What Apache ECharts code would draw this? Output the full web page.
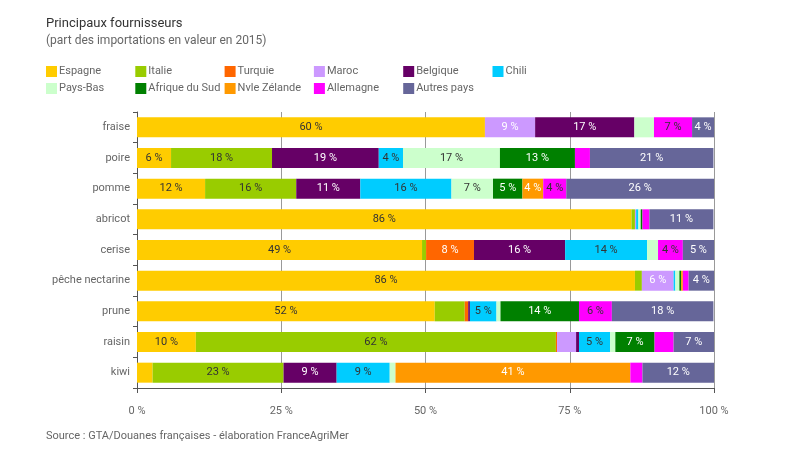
<!DOCTYPE html>
<html>
<head>
<meta charset="utf-8">
<script src="https://cdn.jsdelivr.net/npm/echarts@6/dist/echarts.min.js"></script>
<style>
  html, body { margin: 0; padding: 0; background: #fff; }
  #chart { width: 800px; height: 472px; }
</style>
</head>
<body>
<div id="chart"></div>
<script>
// produits (axe vertical, de haut en bas)
var fruits = ['fraise', 'poire', 'pomme', 'abricot', 'cerise', 'pêche nectarine', 'prune', 'raisin', 'kiwi'];
var ticks = [0, 25, 50, 75, 100];

// part des importations en valeur (%), par fournisseur, dans l'ordre des fruits
var espagne   = [60.3, 5.9,  11.8, 85.7, 49.4, 86.3, 51.6, 10.2, 2.7];
var italie    = [0,    17.5, 15.8, 0.6,  0.7,  1.2,  5.2,  62.4, 22.7];
var turquie   = [0,    0,    0,    0,    8.3,  0,    0.6,  0.2,  0];
var maroc     = [8.7,  0,    0,    0.2,  0,    5.5,  0,    3.3,  0];
var belgique  = [17.2, 18.5, 11.1, 0,    15.8, 0,    0.3,  0.5,  9.2];
var chili     = [0,    4.2,  15.8, 0.4,  14.2, 0.3,  4.6,  5.4,  9.2];
var paysBas   = [3.4,  16.8, 7.2,  0.4,  1.9,  0.7,  0.7,  0.9,  1];
var afSud     = [0,    13,   5.1,  0.3,  0,    0.3,  13.6, 6.8,  0];
var nzelande  = [0,    0,    3.6,  0,    0,    0.3,  0,    0,    40.7];
var allemagne = [6.6,  2.6,  4,    1.2,  4.3,  1.0,  5.7,  3.3,  2.1];
var autres    = [3.8,  21.4, 25.6, 11.1, 5.4,  4.4,  17.6, 7,    12.4];

// segments sans étiquette dans l'original
var sansEtiquette = [['Italie', 'prune']];

var fournisseurs = [
  { name: 'Espagne',        data: espagne,   color: '#FFCC00', txt: '#333' },
  { name: 'Italie',         data: italie,    color: '#99CC00', txt: '#333' },
  { name: 'Turquie',        data: turquie,   color: '#FF6600', txt: '#fff' },
  { name: 'Maroc',          data: maroc,     color: '#CC99FF', txt: '#fff' },
  { name: 'Belgique',       data: belgique,  color: '#660066', txt: '#fff' },
  { name: 'Chili',          data: chili,     color: '#00CCFF', txt: '#333' },
  { name: 'Pays-Bas',       data: paysBas,   color: '#CCFFCC', txt: '#333' },
  { name: 'Afrique du Sud', data: afSud,     color: '#008000', txt: '#fff' },
  { name: 'Nvle Zélande',   data: nzelande,  color: '#FF9900', txt: '#fff' },
  { name: 'Allemagne',      data: allemagne, color: '#FF00FF', txt: '#333' },
  { name: 'Autres pays',    data: autres,    color: '#666699', txt: '#fff' }
];

var police = "Roboto, 'DejaVu Sans', sans-serif";

// une légende par colonne (2 lignes)
var legendes = [];
for (var c = 0; c < 6; c++) {
  var noms = [fournisseurs[c].name];
  if (fournisseurs[c + 6]) noms.push(fournisseurs[c + 6].name);
  legendes.push({
    data: noms,
    orient: 'vertical',
    left: 46 + c * 89.3,
    top: 66,
    padding: 0,
    itemGap: 6,
    itemWidth: 11,
    itemHeight: 11,
    icon: 'rect',
    selectedMode: false,
    textStyle: { fontFamily: police, fontSize: 11, color: '#666', padding: [0, 0, 0, -3] }
  });
}

var myChart = echarts.init(document.getElementById('chart'));

var option = {
  animation: false,
  textStyle: { fontFamily: police },
  title: {
    text: 'Principaux fournisseurs',
    subtext: '(part des importations en valeur en 2015)',
    left: 46,
    top: 17,
    padding: 0,
    itemGap: 5,
    textStyle: { fontFamily: police, fontSize: 13, fontWeight: 'normal', color: '#333' },
    subtextStyle: { fontFamily: police, fontSize: 12, color: '#666' }
  },
  legend: legendes,
  grid: { left: 137, right: 86, top: 112, bottom: 84, containLabel: false },
  xAxis: {
    type: 'value',
    min: ticks[0],
    max: ticks[ticks.length - 1],
    interval: 25,
    axisLine: { show: true, lineStyle: { color: '#555' } },
    axisTick: { show: true, length: 5, lineStyle: { color: '#555' } },
    axisLabel: {
      fontFamily: police, fontSize: 11, color: '#666', margin: 18,
      formatter: function (v) { return v + ' %'; }
    },
    splitLine: { show: true, lineStyle: { color: '#999' } }
  },
  yAxis: {
    type: 'category',
    data: fruits,
    inverse: true,
    axisLine: { show: true, lineStyle: { color: '#555' } },
    axisTick: { show: true, length: 4, lineStyle: { color: '#555' } },
    axisLabel: { fontFamily: police, fontSize: 11, color: '#666', margin: 7 }
  },
  graphic: [{
    type: 'text',
    left: 46,
    top: 431,
    style: {
      text: 'Source : GTA/Douanes françaises - élaboration FranceAgriMer',
      font: '11px ' + police,
      fill: '#666'
    }
  }],
  series: fournisseurs.map(function (f) {
    return {
      name: f.name,
      type: 'bar',
      stack: 'total',
      barWidth: 20,
      data: f.data.map(function (v, i) {
        var cache = sansEtiquette.some(function (s) { return s[0] === f.name && s[1] === fruits[i]; });
        return cache ? { value: v, label: { show: false } } : v;
      }),
      itemStyle: { color: f.color },
      label: {
        show: true,
        position: 'inside',
        fontFamily: police,
        fontSize: 11,
        color: f.txt,
        formatter: function (p) {
          var r = Math.round(p.value);
          return r >= 4 ? r + ' %' : '';
        }
      }
    };
  })
};

myChart.setOption(option);
</script>
</body>
</html>
